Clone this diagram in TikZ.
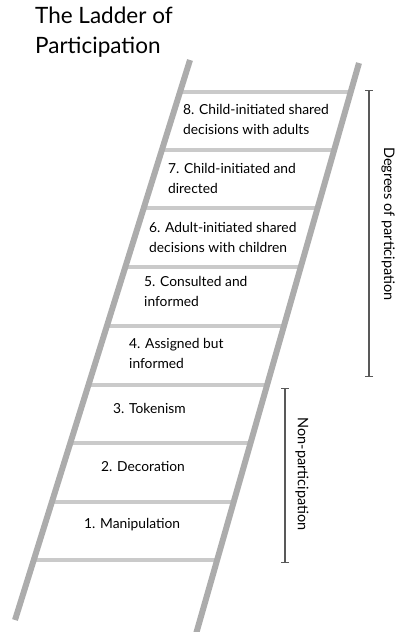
\documentclass[tikz,border=0pt]{standalone}
\usepackage{fontspec}
\setmainfont{Lato}
\usetikzlibrary{arrows.meta}
\begin{document}
\begin{tikzpicture}[x=1pt,y=-1pt,
  rail/.style={line width=6pt,color=railgray},
  rung/.style={line width=4pt,color=runggray},
  lbl/.style={anchor=west,align=left,inner sep=0pt,font=\fontsize{13.8}{20}\selectfont,text=black},
  bracket/.style={line width=1.2pt,color=black!65,{Bar[width=8pt,line width=1.2pt]}-{Bar[width=8pt,line width=1.2pt]}},
  side/.style={rotate=-90,inner sep=0pt,font=\fontsize{14.5}{16}\selectfont,text=black}]
\definecolor{railgray}{RGB}{172,172,172}
\definecolor{runggray}{RGB}{202,202,202}
\useasboundingbox (0,0) rectangle (397,632);
% title
\node[anchor=west,align=left,inner sep=0pt,font=\fontsize{22.5}{29.5}\selectfont] (title) at (35,32) {The Ladder of\\Participation};
% rungs
\foreach \y [count=\i] in {92,150,208,267,326,385,443,502,560}{
  \coordinate (rl\i) at ({190-0.3125*(\y-60)},\y);
  \coordinate (rr\i) at ({359-0.2857*(\y-63)},\y);
  \draw[rung] (rl\i) -- (rr\i);
}
% rails
\coordinate (L1) at (190,60);
\coordinate (L2) at (15,620);
\coordinate (R1) at (359,63);
\coordinate (R2) at (196,634);
\draw[rail] (L1) -- (L2);
\draw[rail] (R1) -- (R2);
% labels
\node[lbl] (s8) at (183,119) {8. Child-initiated shared\\decisions with adults};
\node[lbl] (s7) at (168,178) {7. Child-initiated and\\directed};
\node[lbl] (s6) at (149,237) {6. Adult-initiated shared\\decisions with children};
\node[lbl] (s5) at (144,291) {5. Consulted and\\informed};
\node[lbl] (s4) at (129,353) {4. Assigned but\\informed};
\node[lbl] (s3) at (113,408) {3. Tokenism};
\node[lbl] (s2) at (101,466) {2. Decoration};
\node[lbl] (s1) at (84,525) {1. Manipulation};
% brackets
\coordinate (dtop) at (369,90);
\coordinate (dbot) at (369,377);
\draw[bracket] (dtop) -- (dbot);
\node[side] (deg) at (388,224) {Degrees of participation};
\coordinate (ntop) at (285,388);
\coordinate (nbot) at (285,563);
\draw[bracket] (ntop) -- (nbot);
\node[side] (non) at (302,474) {Non-participation};
\end{tikzpicture}
\end{document}
